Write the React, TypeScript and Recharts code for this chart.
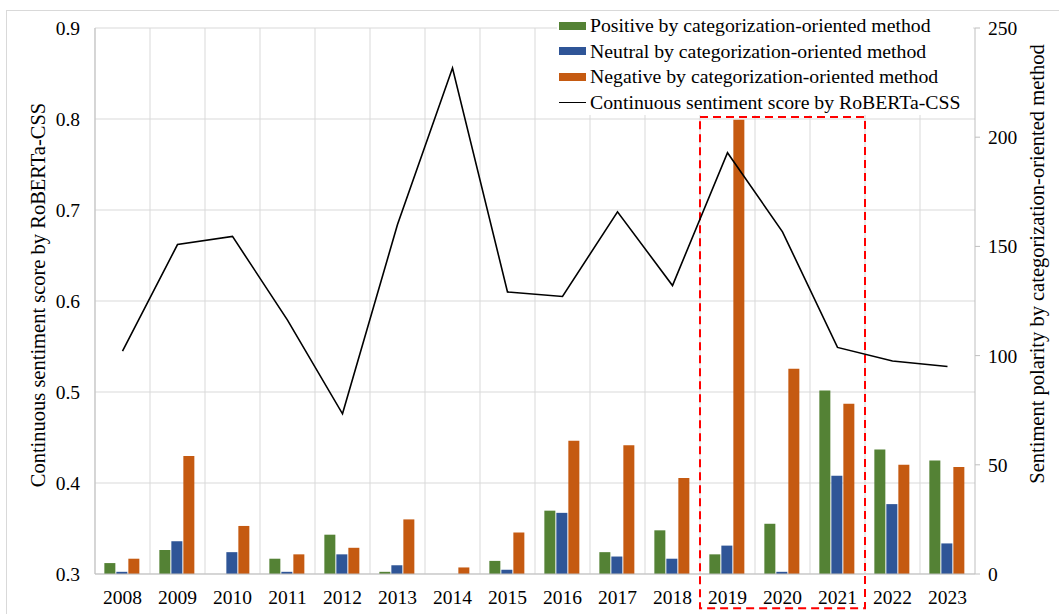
import {
  Bar,
  CartesianGrid,
  ComposedChart,
  Legend,
  Line,
  ReferenceArea,
  XAxis,
  YAxis,
} from "recharts";

const FONT = '"Liberation Serif", "Times New Roman", serif';
const GREEN = "#548235";
const BLUE = "#2F5597";
const ORANGE = "#C55A11";
const GRID = "#d9d9d9";
const AXIS = "#bfbfbf";

const years = [
  "2008", "2009", "2010", "2011", "2012", "2013", "2014", "2015",
  "2016", "2017", "2018", "2019", "2020", "2021", "2022", "2023",
];
const positive = [5, 11, 0, 7, 18, 1, 0, 6, 29, 10, 20, 9, 23, 84, 57, 52];
const neutral = [1, 15, 10, 1, 9, 4, 0, 2, 28, 8, 7, 13, 1, 45, 32, 14];
const negative = [7, 54, 22, 9, 12, 25, 3, 19, 61, 59, 44, 208, 94, 78, 50, 49];
const roberta = [
  0.545, 0.662, 0.671, 0.579, 0.476, 0.684, 0.856, 0.61,
  0.605, 0.698, 0.617, 0.763, 0.676, 0.549, 0.534, 0.528,
];

const leftTicks = [0.3, 0.4, 0.5, 0.6, 0.7, 0.8, 0.9];
const rightTicks = [0, 50, 100, 150, 200, 250];

const legendItems = [
  { name: "Positive by categorization-oriented method", color: GREEN, kind: "bar" },
  { name: "Neutral by categorization-oriented method", color: BLUE, kind: "bar" },
  { name: "Negative by categorization-oriented method", color: ORANGE, kind: "bar" },
  { name: "Continuous sentiment score by RoBERTa-CSS", color: "#000", kind: "line" },
];

const data = years.map((year, i) => ({
  year,
  positive: positive[i],
  neutral: neutral[i],
  negative: negative[i],
  roberta: roberta[i],
}));

function renderLegend() {
  return (
    <div style={{ background: "#fff", fontFamily: FONT, fontSize: 19.75, color: "#000" }}>
      {legendItems.map((item) => (
        <div
          key={item.name}
          style={{ display: "flex", alignItems: "center", height: 25.5, whiteSpace: "nowrap" }}
        >
          <span
            style={{
              display: "inline-block",
              flex: "none",
              width: 27,
              height: item.kind === "bar" ? 8 : 1.5,
              background: item.color,
              marginLeft: 2,
              marginRight: 4,
            }}
          />
          {item.name}
        </div>
      ))}
    </div>
  );
}

function axisTitle(text: string, x: number, y: number) {
  return () => (
    <text
      x={x}
      y={y}
      transform={`rotate(-90 ${x} ${y})`}
      textAnchor="middle"
      dominantBaseline="central"
      fontFamily={FONT}
      fontSize={20.5}
      fill="#000"
    >
      {text}
    </text>
  );
}

export default function App() {
  return (
    <div style={{ position: "relative", width: 1059, height: 614, overflow: "hidden", fontFamily: FONT }}>
      <style>{`body{margin:0}`}</style>
      <div
        style={{
          position: "absolute",
          left: 6,
          top: 10,
          width: 1100,
          height: 700,
          border: `1px solid ${GRID}`,
        }}
      />
      <ComposedChart
        width={1059}
        height={614}
        data={data}
        margin={{ top: 28, right: 0, bottom: 0, left: 0 }}
        barCategoryGap="17%"
        barGap={1}
        style={{ fontFamily: FONT }}
      >
        <CartesianGrid
          yAxisId="left"
          stroke={GRID}
          verticalCoordinatesGenerator={({ offset }) =>
            years.map((_, k) => offset.left + (k * offset.width) / years.length)
          }
        />
        <XAxis
          dataKey="year"
          height={40}
          tickLine={false}
          tickSize={0}
          tickMargin={16}
          axisLine={{ stroke: AXIS }}
          tick={{ fill: "#000", fontSize: 19.5, fontFamily: FONT }}
          interval={0}
        />
        <YAxis
          yAxisId="left"
          width={95}
          domain={[0.3, 0.9]}
          ticks={leftTicks}
          tickFormatter={(v) => v.toFixed(1)}
          tickLine={false}
          tickSize={0}
          tickMargin={15}
          axisLine={{ stroke: AXIS }}
          tick={{ fill: "#000", fontSize: 19.5, fontFamily: FONT }}
          label={{ content: axisTitle("Continuous sentiment score by RoBERTa-CSS", 38, 295) }}
        />
        <YAxis
          yAxisId="right"
          orientation="right"
          width={84}
          domain={[0, 250]}
          ticks={rightTicks}
          tickSize={5}
          tickMargin={8}
          tickLine={{ stroke: AXIS }}
          axisLine={{ stroke: AXIS }}
          tick={{ fill: "#000", fontSize: 19.5, fontFamily: FONT }}
          label={{
            content: axisTitle("Sentiment polarity by categorization-oriented method", 1037, 264),
          }}
        />
        <Bar yAxisId="right" dataKey="positive" fill={GREEN} isAnimationActive={false} />
        <Bar yAxisId="right" dataKey="neutral" fill={BLUE} isAnimationActive={false} />
        <Bar yAxisId="right" dataKey="negative" fill={ORANGE} isAnimationActive={false} />
        <Line
          yAxisId="left"
          type="linear"
          dataKey="roberta"
          stroke="#000"
          strokeWidth={1.6}
          dot={false}
          activeDot={false}
          isAnimationActive={false}
        />
        <ReferenceArea
          yAxisId="left"
          x1="2019"
          x2="2021"
          y1={0.2625}
          y2={0.8022}
          ifOverflow="visible"
          fill="none"
          fillOpacity={0}
          stroke="#FF0000"
          strokeWidth={2}
          strokeDasharray="8 5"
        />
        <Legend
          layout="vertical"
          align="center"
          verticalAlign="middle"
          content={renderLegend}
          wrapperStyle={{ position: "absolute", left: 557, top: 13, width: 416, height: 103 }}
        />
      </ComposedChart>
    </div>
  );
}
